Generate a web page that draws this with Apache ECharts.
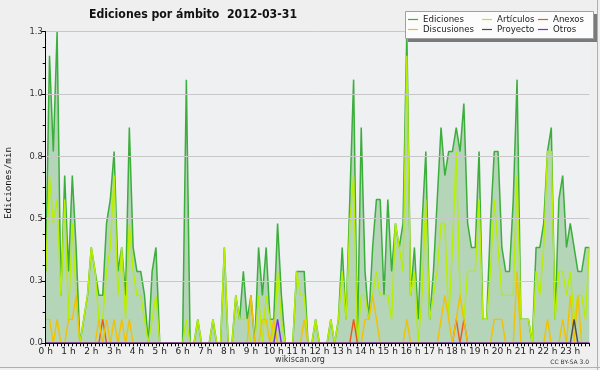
<!DOCTYPE html>
<html>
<head>
<meta charset="utf-8">
<script src="https://cdn.jsdelivr.net/npm/echarts@6/dist/echarts.min.js"></script>
<style>
html,body{margin:0;padding:0;background:#efefef;}
#c{width:600px;height:370px;}
</style>
</head>
<body>
<div id="c"></div>
<script>
// Hour tick labels (one every 6 ten-minute bins)
var hourLabels = ['0 h','1 h','2 h','3 h','4 h','5 h','6 h','7 h','8 h','9 h','10 h','11 h','12 h','13 h','14 h','15 h','16 h','17 h','18 h','19 h','20 h','21 h','22 h','23 h'];

// Edits per minute, 10-minute bins (144 per day)
var ediciones = [
0.3,1.2,0.8,1.3,0.2,0.7,0.3,0.7,0.4,0.0,
0.1,0.2,0.4,0.3,0.2,0.2,0.5,0.6,0.8,0.3,
0.4,0.2,0.9,0.4,0.3,0.3,0.2,0.0,0.3,0.4,
0.0,0.0,0.0,0.0,0.0,0.0,0.0,1.1,0.0,0.0,
0.1,0.0,0.0,0.0,0.1,0.0,0.0,0.4,0.0,0.0,
0.2,0.1,0.3,0.1,0.2,0.0,0.4,0.2,0.4,0.1,
0.1,0.5,0.2,0.0,0.0,0.0,0.3,0.3,0.3,0.0,
0.0,0.1,0.0,0.0,0.0,0.1,0.0,0.1,0.4,0.1,
0.6,1.1,0.0,0.9,0.3,0.1,0.4,0.6,0.6,0.2,
0.6,0.3,0.5,0.4,0.5,1.3,0.2,0.4,0.1,0.5,
0.8,0.1,0.3,0.6,0.9,0.7,0.8,0.8,0.9,0.8,
1.0,0.5,0.4,0.4,0.8,0.1,0.1,0.5,0.8,0.8,
0.4,0.3,0.3,0.6,1.1,0.1,0.1,0.1,0.0,0.4,
0.4,0.5,0.8,0.9,0.1,0.6,0.7,0.4,0.5,0.4,
0.3,0.3,0.4,0.4];

var articulos = [
0.3,0.7,0.5,0.6,0.2,0.6,0.1,0.5,0.2,0.0,
0.1,0.2,0.4,0.3,0.1,0.1,0.3,0.4,0.7,0.2,
0.4,0.1,0.5,0.3,0.2,0.2,0.1,0.0,0.1,0.2,
0.0,0.0,0.0,0.0,0.0,0.0,0.0,0.1,0.0,0.0,
0.1,0.0,0.0,0.0,0.1,0.0,0.0,0.4,0.0,0.0,
0.2,0.1,0.1,0.1,0.0,0.0,0.2,0.0,0.2,0.1,
0.0,0.3,0.1,0.0,0.0,0.0,0.3,0.2,0.2,0.0,
0.0,0.1,0.0,0.0,0.0,0.1,0.0,0.1,0.3,0.1,
0.5,0.7,0.0,0.2,0.2,0.1,0.2,0.3,0.2,0.2,
0.2,0.1,0.5,0.4,0.3,1.2,0.2,0.3,0.0,0.2,
0.6,0.1,0.2,0.3,0.5,0.5,0.1,0.4,0.8,0.2,
0.1,0.3,0.3,0.3,0.6,0.1,0.1,0.3,0.6,0.4,
0.2,0.2,0.2,0.2,0.7,0.1,0.1,0.1,0.0,0.3,
0.2,0.4,0.8,0.8,0.1,0.3,0.3,0.2,0.3,0.1,
0.2,0.2,0.1,0.4];

var discusiones = [
0.1,0.1,0.0,0.1,0.0,0.0,0.1,0.1,0.2,0.0,
0.0,0.0,0.0,0.0,0.1,0.0,0.1,0.0,0.1,0.0,
0.1,0.0,0.1,0.0,0.0,0.0,0.0,0.0,0.0,0.0,
0.0,0.0,0.0,0.0,0.0,0.0,0.0,0.0,0.0,0.0,
0.0,0.0,0.0,0.0,0.0,0.0,0.0,0.0,0.0,0.0,
0.0,0.0,0.0,0.0,0.2,0.0,0.0,0.1,0.1,0.0,
0.1,0.0,0.0,0.0,0.0,0.0,0.0,0.0,0.1,0.0,
0.0,0.0,0.0,0.0,0.0,0.0,0.0,0.0,0.0,0.0,
0.0,0.0,0.0,0.0,0.1,0.1,0.2,0.1,0.0,0.0,
0.0,0.0,0.0,0.0,0.0,0.1,0.0,0.0,0.0,0.0,
0.0,0.0,0.0,0.0,0.1,0.2,0.1,0.0,0.1,0.2,
0.1,0.0,0.0,0.0,0.0,0.0,0.0,0.0,0.1,0.1,
0.1,0.0,0.0,0.0,0.3,0.0,0.0,0.0,0.0,0.0,
0.0,0.0,0.1,0.0,0.0,0.0,0.1,0.0,0.2,0.0,
0.2,0.0,0.0,0.0];

var anexos = [
0,0,0,0,0,0,0,0,0,0, 0,0,0,0,0,0.1,0,0,0,0,
0,0,0,0,0,0,0,0,0,0, 0,0,0,0,0,0,0,0,0,0,
0,0,0,0,0,0,0,0,0,0, 0,0,0,0,0,0,0,0,0,0,
0,0,0,0,0,0,0,0,0,0, 0,0,0,0,0,0,0,0,0,0,
0,0.1,0,0,0,0,0,0,0,0, 0,0,0,0,0,0,0,0,0,0,
0,0,0,0,0,0,0,0,0.1,0, 0.1,0,0,0,0,0,0,0,0,0,
0,0,0,0,0,0,0,0,0,0, 0,0,0,0,0,0,0,0,0,0,
0,0,0,0];

var proyecto = [
0,0,0,0,0,0,0,0,0,0, 0,0,0,0,0,0,0,0,0,0,
0,0,0,0,0,0,0,0,0,0, 0,0,0,0,0,0,0,0,0,0,
0,0,0,0,0,0,0,0,0,0, 0,0,0,0,0,0,0,0,0,0,
0,0,0,0,0,0,0,0,0,0, 0,0,0,0,0,0,0,0,0,0,
0,0,0,0,0,0,0,0,0,0, 0,0,0,0,0,0,0,0,0,0,
0,0,0,0,0,0,0,0,0,0, 0,0,0,0,0,0,0,0,0,0,
0,0,0,0,0,0,0,0,0,0, 0,0,0,0,0,0,0,0,0,0.1,
0,0,0,0];

var otros = [
0,0,0,0,0,0,0,0,0,0, 0,0,0,0,0,0,0,0,0,0,
0,0,0,0,0,0,0,0,0,0, 0,0,0,0,0,0,0,0,0,0,
0,0,0,0,0,0,0,0,0,0, 0,0,0,0,0,0,0,0,0,0,
0,0.1,0,0,0,0,0,0,0,0, 0,0,0,0,0,0,0,0,0,0,
0,0,0,0,0,0,0,0,0,0, 0,0,0,0,0,0,0,0,0,0,
0,0,0,0,0,0,0,0,0,0, 0,0,0,0,0,0,0,0,0,0,
0,0,0,0,0,0,0,0,0,0, 0,0,0,0,0,0,0,0,0,0,
0,0,0,0];

var yTicks = ['0.0','0.3','0.5','0.8','1.0','1.3'];

var times = [];
for (var h = 0; h < 24; h++) for (var m = 0; m < 60; m += 10) times.push(h + ':' + (m < 10 ? '0' : '') + m);

var FONT = 'DejaVu Sans';
var colors = {
  ed: '#3cae3c', art: '#b8ee00', disc: '#f2c200', anx: '#f0561a', pro: '#4a4a4a', otr: '#7a2ee0'
};

var chart = echarts.init(document.getElementById('c'), null, {renderer: 'canvas'});

function ser(name, data, color, extra) {
  var s = {
    name: name, type: 'line', data: data, symbol: 'none', smooth: false,
    color: color,
    lineStyle: {color: color, width: 1.4},
    itemStyle: {color: color},
    emphasis: {disabled: true},
    animation: false
  };
  if (extra) for (var k in extra) s[k] = extra[k];
  return s;
}

var legendText = {fontFamily: FONT, fontSize: 8.6, color: '#222', lineHeight: 10};
function leg(left, names) {
  return {
    orient: 'vertical', left: left, top: 14.5, itemGap: 0, itemWidth: 10, itemHeight: 1.2,
    icon: 'rect', selectedMode: false, padding: 0, z: 20,
    textStyle: legendText, data: names
  };
}

chart.setOption({
  backgroundColor: '#efefef',
  animation: false,
  title: {
    text: 'Ediciones por ámbito  2012-03-31',
    left: 84, top: 4,
    textStyle: {fontFamily: 'DejaVu Sans Condensed', fontWeight: 'bold', fontSize: 12.2, color: '#111'}
  },
  legend: [
    leg(408, ['Ediciones', 'Discusiones']),
    leg(482, ['Artículos', 'Proyecto']),
    leg(538, ['Anexos', 'Otros'])
  ],
  grid: {left: 45.7, right: 10.7, top: 31.7, bottom: 26.7, show: true, backgroundColor: '#eef0f2', borderWidth: 0},
  xAxis: {
    type: 'category', data: times, boundaryGap: false, z: 10,
    axisLine: {lineStyle: {color: '#000', width: 1}},
    axisTick: {show: true, interval: 0, length: 3, lineStyle: {color: '#000'}},
    axisLabel: {
      interval: 5, margin: 4, fontFamily: FONT, fontSize: 9, color: '#222',
      formatter: function (v, idx) { return hourLabels[Math.round(idx / 6)]; }
    },
    splitLine: {show: false}
  },
  yAxis: {
    type: 'value', min: 0, max: 1.3, interval: 0.26, z: 10,
    axisLine: {show: true, lineStyle: {color: '#000', width: 1}},
    axisTick: {show: true, length: 5, lineStyle: {color: '#000'}},
    minorTick: {show: true, splitNumber: 4, length: 3, lineStyle: {color: '#000'}},
    axisLabel: {
      margin: 3, fontFamily: FONT, fontSize: 8.3, color: '#333',
      formatter: function (v) { return yTicks[Math.round(v / 0.26)]; }
    },
    splitLine: {show: true, lineStyle: {color: '#c8c8c8', width: 1}}
  },
  graphic: [
    {type: 'text', x: 9, y: 183, rotation: Math.PI / 2,
     style: {text: 'Ediciones/min', fontFamily: 'DejaVu Sans Mono', fontSize: 9.2, fill: '#111', align: 'center', verticalAlign: 'middle'}},
    {type: 'text', x: 300, y: 360,
     style: {text: 'wikiscan.org', fontFamily: FONT, fontSize: 8, fill: '#333', align: 'center', verticalAlign: 'middle'}},
    {type: 'text', x: 589, y: 362,
     style: {text: 'CC BY-SA 3.0', fontFamily: FONT, fontSize: 6, fill: '#333', align: 'right', verticalAlign: 'middle'}},
    {type: 'rect', z: 15, shape: {x: 408, y: 14, width: 189, height: 28}, style: {fill: '#7a7a7a'}},
    {type: 'rect', z: 16, shape: {x: 405.5, y: 11.5, width: 188, height: 27}, style: {fill: '#fcfcfc', stroke: '#a0a0a0', lineWidth: 1}},
    {type: 'line', shape: {x1: 597.5, y1: 0, x2: 597.5, y2: 370}, style: {stroke: '#b0b0b0', lineWidth: 1}},
    {type: 'line', shape: {x1: 0, y1: 367.5, x2: 600, y2: 367.5}, style: {stroke: '#b0b0b0', lineWidth: 1}}
  ],
  series: [
    ser('Ediciones', ediciones, colors.ed, {areaStyle: {color: 'rgba(90,170,90,0.55)', origin: 'start'}, lineStyle: {color: colors.ed, width: 1.5}}),
    ser('Artículos', articulos, colors.art),
    ser('Anexos', anexos, colors.anx),
    ser('Discusiones', discusiones, colors.disc),
    ser('Proyecto', proyecto, colors.pro),
    ser('Otros', otros, colors.otr)
  ]
});
</script>
</body>
</html>
